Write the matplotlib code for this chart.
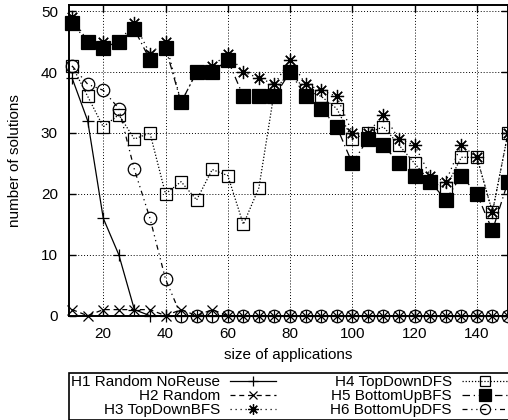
import matplotlib
matplotlib.use("Agg")
import matplotlib.pyplot as plt

plt.rcParams["font.family"] = ["Liberation Sans", "DejaVu Sans"]
plt.rcParams["font.size"] = 11

sizes = [10, 15, 20, 25, 30, 35, 40, 45, 50, 55, 60, 65, 70, 75, 80,
         85, 90, 95, 100, 105, 110, 115, 120, 125, 130, 135, 140, 145, 150]

h1_random_noreuse = [39, 32, 16, 10, 1, 0, 0, 0, 0, 0, 0, 0, 0, 0, 0,
                     0, 0, 0, 0, 0, 0, 0, 0, 0, 0, 0, 0, 0, 0]
h2_random = [1, 0, 1, 1, 1, 1, 0, 1, 0, 1, 0, 0, 0, 0, 0,
             0, 0, 0, 0, 0, 0, 0, 0, 0, 0, 0, 0, 0, 0]
h3_topdown_bfs = [49, 45, 45, 45, 48, 43, 45, 35, 40, 41, 43, 40, 39, 38, 42,
                  38, 37, 36, 30, 30, 33, 29, 28, 23, 22, 28, 26, 17, 30]
h4_topdown_dfs = [41, 36, 31, 33, 29, 30, 20, 22, 19, 24, 23, 15, 21, 37, 40,
                  37, 36, 34, 29, 30, 31, 28, 25, 22, 21, 26, 26, 17, 30]
h5_bottomup_bfs = [48, 45, 44, 45, 47, 42, 44, 35, 40, 40, 42, 36, 36, 36, 40,
                   36, 34, 31, 25, 29, 28, 25, 23, 22, 19, 23, 20, 14, 22]
h6_bottomup_dfs = [41, 38, 37, 34, 24, 16, 6, 0, 0, 0, 0, 0, 0, 0, 0,
                   0, 0, 0, 0, 0, 0, 0, 0, 0, 0, 0, 0, 0, 0]

labels = ["H1 Random NoReuse", "H2 Random", "H3 TopDownBFS",
          "H4 TopDownDFS", "H5 BottomUpBFS", "H6 BottomUpDFS"]
x_ticks = [20, 40, 60, 80, 100, 120, 140]
y_ticks = [0, 10, 20, 30, 40, 50]

# gnuplot-like line/point styles, one per heuristic
styles = [
    dict(ls="-", marker="+", ms=9, mfc="black"),
    dict(ls=(0, (4, 3)), marker="x", ms=7.5, mfc="black"),
    dict(ls=(0, (1, 3)), marker=(8, 2, 0), ms=9.5, mfc="black"),
    dict(ls=(0, (1, 1.5)), marker="s", ms=9, mfc="none"),
    dict(ls=(0, (6, 3, 1, 3)), marker="s", ms=10, mfc="black"),
    dict(ls=(0, (4, 3, 1, 3, 1, 3)), marker="o", ms=9, mfc="none"),
]
series = [h1_random_noreuse, h2_random, h3_topdown_bfs,
          h4_topdown_dfs, h5_bottomup_bfs, h6_bottomup_dfs]

fig = plt.figure(figsize=(5.08, 4.2), dpi=100)
ax = fig.add_axes([69 / 508, 104.3 / 420, 439 / 508, 310.7 / 420])

handles = []
for i in range(len(series)):
    st = styles[i]
    line, = ax.plot(sizes, series[i],
                    color="black",
                    lw=0.9,
                    linestyle=st["ls"],
                    marker=st["marker"],
                    markersize=st["ms"],
                    markerfacecolor=st["mfc"],
                    markeredgecolor="black",
                    markeredgewidth=0.9,
                    clip_on=False,
                    zorder=3 + i)
    handles.append(line)

ax.set_xlim(9, 150)
ax.set_ylim(0, 51)
ax.set_xticks(x_ticks)
ax.set_yticks(y_ticks)
ax.tick_params(direction="in", length=5, width=1,
               top=True, right=True, pad=8, colors="black")
ax.grid(True, color="black", linestyle=(0, (1, 2)), linewidth=0.7)
for s in ax.spines.values():
    s.set_linewidth(1.4)

ax.set_xlabel("size of applications")
ax.set_ylabel("number of solutions")
ax.xaxis.set_label_coords(0.5, -0.105)
ax.yaxis.set_label_coords(-0.107, 0.5)

leg = fig.legend(handles, labels,
                 ncol=2,
                 loc="upper left",
                 bbox_to_anchor=(69 / 508, 1 - 419 / 420, 441 / 508, 46 / 420),
                 mode="expand",
                 markerfirst=False,
                 numpoints=1,
                 markerscale=0.8,
                 handlelength=3.0,
                 handletextpad=0.65,
                 labelspacing=0,
                 borderpad=0.15,
                 borderaxespad=0,
                 fancybox=False,
                 framealpha=1,
                 edgecolor="black",
                 fontsize=11)
leg.get_frame().set_linewidth(1.2)

fig.savefig("out.png", dpi=100)
